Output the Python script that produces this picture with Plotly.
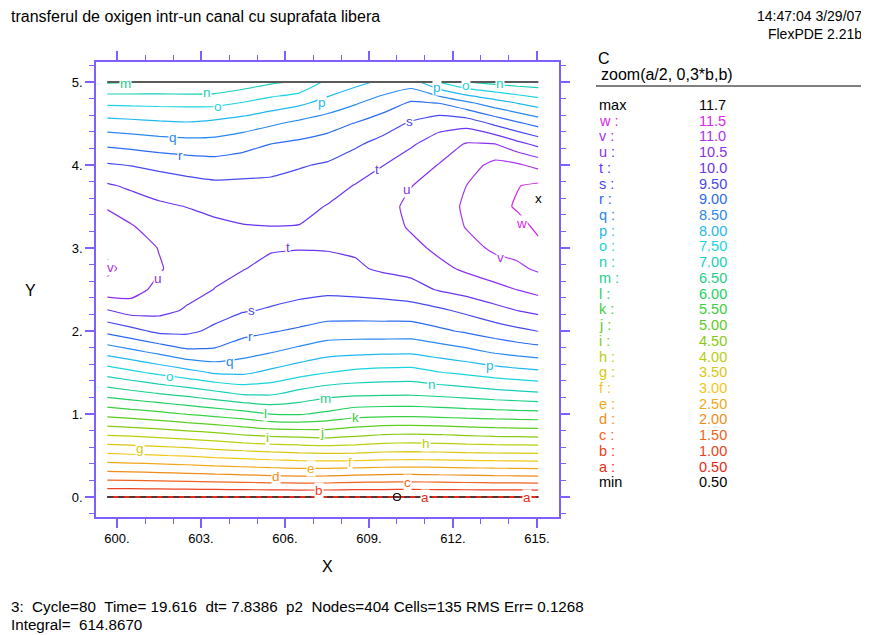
import numpy as np
import plotly.graph_objects as go

# ---------------- data ----------------
x_cols = [599.65, 600.5, 601.5, 602.5, 603.5, 604.5, 605.5, 606.5, 607.5,
          608.5, 609.5, 610.5, 611.5, 612.5, 613.5, 614.3, 615.05]
y_rows = [0.0, 0.25, 0.5, 0.75, 1.0, 1.25, 1.5, 1.75, 2.0, 2.25, 2.5,
          2.75, 3.0, 3.25, 3.5, 3.75, 4.0, 4.25, 4.5, 4.75, 5.0]

# C values per x column (bottom -> top)
c00 = [0.5, 1.73, 2.88, 4.03, 5.15, 6.21, 7.2, 8.18, 9.13, 9.98, 10.8, 11.12, 10.86, 10.67, 10.47, 10.06, 9.55, 8.91, 8.21, 7.4, 6.45]
c01 = [0.5, 1.75, 2.93, 4.08, 5.25, 6.35, 7.39, 8.38, 9.34, 10.21, 10.72, 10.82, 10.78, 10.55, 10.25, 9.92, 9.48, 8.84, 8.16, 7.38, 6.48]
c02 = [0.5, 1.79, 2.98, 4.16, 5.37, 6.52, 7.61, 8.62, 9.61, 10.15, 10.35, 10.55, 10.48, 10.27, 10.08, 9.79, 9.37, 8.75, 8.09, 7.37, 6.5]
c03 = [0.5, 1.83, 3.04, 4.26, 5.52, 6.68, 7.82, 8.9, 9.61, 9.95, 10.15, 10.25, 10.28, 10.2, 9.99, 9.69, 9.27, 8.7, 8.05, 7.36, 6.5]
c04 = [0.5, 1.87, 3.13, 4.37, 5.66, 6.87, 8.06, 8.91, 9.39, 9.71, 9.99, 10.1, 10.15, 10.1, 9.89, 9.61, 9.21, 8.69, 8.14, 7.36, 6.55]
c05 = [0.5, 1.91, 3.2, 4.51, 5.81, 7.08, 8.09, 8.69, 9.16, 9.54, 9.78, 10.02, 10.1, 10.03, 9.83, 9.61, 9.28, 8.82, 8.26, 7.52, 6.72]
c06 = [0.5, 1.96, 3.27, 4.61, 6.01, 7.09, 7.89, 8.53, 9.04, 9.46, 9.67, 9.85, 10.05, 10.01, 9.81, 9.61, 9.35, 9.01, 8.43, 7.72, 6.92]
c07 = [0.5, 1.99, 3.33, 4.65, 6.04, 6.86, 7.68, 8.35, 8.92, 9.36, 9.63, 9.82, 10.02, 10.02, 9.86, 9.67, 9.46, 9.11, 8.62, 7.89, 7.05]
c08 = [0.5, 1.98, 3.36, 4.7, 5.9, 6.68, 7.51, 8.17, 8.77, 9.26, 9.6, 9.84, 10.03, 10.05, 10.02, 9.81, 9.55, 9.22, 8.8, 8.16, 7.6]
c09 = [0.5, 1.92, 3.36, 4.6, 5.7, 6.62, 7.39, 8.12, 8.75, 9.26, 9.63, 9.93, 10.06, 10.1, 10.06, 10.02, 9.75, 9.43, 9.02, 8.44, 7.85]
c10 = [0.5, 1.89, 3.3, 4.49, 5.66, 6.6, 7.33, 8.09, 8.76, 9.27, 9.69, 10.07, 10.2, 10.3, 10.35, 10.25, 9.99, 9.67, 9.27, 8.74, 8.1]
c11 = [0.5, 1.87, 3.28, 4.46, 5.65, 6.59, 7.31, 8.08, 8.76, 9.28, 9.82, 10.15, 10.37, 10.55, 10.6, 10.49, 10.23, 9.95, 9.56, 9.05, 8.25]
c12 = [0.5, 1.9, 3.3, 4.49, 5.69, 6.65, 7.48, 8.22, 8.91, 9.42, 10.04, 10.38, 10.6, 10.7, 10.72, 10.65, 10.52, 10.22, 9.84, 8.98, 7.48]
c13 = [0.5, 1.93, 3.33, 4.55, 5.74, 6.73, 7.6, 8.37, 9.07, 9.62, 10.2, 10.58, 10.81, 11.03, 11.1, 11.01, 10.78, 10.55, 9.83, 8.59, 6.98]
c14 = [0.5, 1.96, 3.35, 4.6, 5.78, 6.83, 7.74, 8.56, 9.25, 9.85, 10.37, 10.75, 11.1, 11.3, 11.35, 11.25, 11.15, 10.52, 9.4, 8.21, 6.85]
c15 = [0.5, 1.97, 3.36, 4.62, 5.81, 6.89, 7.82, 8.67, 9.39, 10.01, 10.51, 10.91, 11.15, 11.35, 11.55, 11.48, 11.07, 10.16, 9.09, 7.97, 6.75]
c16 = [0.5, 1.99, 3.37, 4.64, 5.83, 6.95, 7.89, 8.75, 9.51, 10.13, 10.65, 11.07, 11.4, 11.58, 11.68, 11.6, 10.85, 9.88, 8.83, 7.76, 6.72]

level_letters = list("abcdefghijklmnopqrstuvw")
level_values = [0.5, 1.0, 1.5, 2.0, 2.5, 3.0, 3.5, 4.0, 4.5, 5.0, 5.5, 6.0,
                6.5, 7.0, 7.5, 8.0, 8.5, 9.0, 9.5, 10.0, 10.5, 11.0, 11.5]
level_text = ["0.50", "1.00", "1.50", "2.00", "2.50", "3.00", "3.50", "4.00",
              "4.50", "5.00", "5.50", "6.00", "6.50", "7.00", "7.50", "8.00",
              "8.50", "9.00", "9.50", "10.0", "10.5", "11.0", "11.5"]
level_colors = ["#e82a18", "#f04020", "#f06420", "#f08c18", "#f0a818", "#f0c818",
                "#d8c810", "#b8d010", "#88cc10", "#5ccc20", "#3ad040", "#22d060",
                "#1ccf88", "#16cfb8", "#1ad4e0", "#1fb8f0", "#2a88f0", "#2b6bf0",
                "#4848f0", "#6a35f0", "#8a2ff0", "#aa33ee", "#d42ae8"]

# contour label letters and their positions (data units)
lab_letter = ["m", "n", "o", "p", "q", "r", "s", "t", "u", "p", "o", "n", "w", "v",
              "t", "v", "u", "s", "r", "q", "p", "o", "n", "m", "l", "k", "j", "i",
              "h", "g", "f", "e", "d", "c", "b", "a", "a"]
lab_x = [600.29, 603.21, 603.61, 607.32, 602.0, 602.25, 610.43, 609.29, 610.36, 611.43,
         612.46, 613.68, 614.46, 613.68, 606.11, 599.75, 601.46, 604.82, 604.75, 604.04,
         613.32, 601.89, 611.25, 607.43, 605.29, 608.5, 607.32, 605.39, 611.04, 600.82,
         608.32, 606.93, 605.68, 610.39, 607.21, 611.0, 614.64]
lab_y = [4.98, 4.87, 4.71, 4.75, 4.33, 4.12, 4.53, 3.95, 3.70, 4.93,
         4.96, 4.98, 3.29, 2.89, 3.01, 2.76, 2.63, 2.25, 1.93, 1.63,
         1.58, 1.45, 1.36, 1.19, 1.01, 0.96, 0.78, 0.72, 0.65, 0.59,
         0.41, 0.34, 0.25, 0.17, 0.08, 0.0, 0.0]

domain_x = [599.65, 615.05]
domain_y = [0.0, 5.0]
max_pt = (615.05, 3.6, "11.7")
min_pt = (610.0, 0.0, "0.50")

x_tickvals = [600, 603, 606, 609, 612, 615]
x_ticktext = ["600.", "603.", "606.", "609.", "612.", "615."]
y_tickvals = [0, 1, 2, 3, 4, 5]
y_ticktext = ["0.", "1.", "2.", "3.", "4.", "5."]

# ---------------- figure ----------------
Z = np.array([c00, c01, c02, c03, c04, c05, c06, c07, c08, c09, c10, c11,
              c12, c13, c14, c15, c16]).T

FONT = "Liberation Sans, Arial, Helvetica, sans-serif"
FRAME = "#7f60ff"

# the page body adds an 8px margin; all page positions below are given
# in window pixels and shifted by OFF
OFF = 8
W, H = 869 - OFF, 635 - OFF
L, R, T, B = 96 - OFF, 559 - OFF, 62 - OFF, 517 - OFF


def px(xp, yp):
    xp -= OFF
    yp -= OFF
    return (xp - L) / (R - L), (B - yp) / (B - T)


zmin, zmax = level_values[1], level_values[-1]
cscale = [[(v - zmin) / (zmax - zmin), c] for v, c in zip(level_values[1:], level_colors[1:])]

fig = go.Figure()
fig.add_trace(go.Contour(
    x=x_cols, y=y_rows, z=Z,
    zmin=zmin, zmax=zmax, zauto=False,
    colorscale=cscale, showscale=False,
    contours=dict(start=level_values[1], end=level_values[-1], size=0.5,
                  coloring="lines", showlabels=False),
    line=dict(width=1.2, smoothing=0.4),
    hoverinfo="skip",
))

# bottom boundary: level a (red) with dark dashed boundary over it
fig.add_trace(go.Scatter(x=domain_x, y=[domain_y[0]] * 2, mode="lines",
                         line=dict(color=level_colors[0], width=2), hoverinfo="skip"))
fig.add_trace(go.Scatter(x=domain_x, y=[domain_y[0]] * 2, mode="lines",
                         line=dict(color="#503838", width=2, dash="6px,5px"), hoverinfo="skip"))
# top boundary
fig.add_trace(go.Scatter(x=domain_x, y=[domain_y[1]] * 2, mode="lines",
                         line=dict(color="#5a5a5a", width=2.2), hoverinfo="skip"))

# min marker
fig.add_trace(go.Scatter(x=[min_pt[0]], y=[min_pt[1]], mode="markers",
                         marker=dict(symbol="circle-open", size=7, color="black",
                                     line=dict(width=1.2)), hoverinfo="skip"))

annotations = []
color_of = dict(zip(level_letters, level_colors))
for ch, xx, yy in zip(lab_letter, lab_x, lab_y):
    annotations.append(dict(x=xx, y=yy, xref="x", yref="y", text=ch, showarrow=False,
                            font=dict(family=FONT, size=13.5, color=color_of[ch]),
                            bgcolor="white", borderpad=0, xanchor="center", yanchor="middle"))
# max marker
annotations.append(dict(x=max_pt[0], y=max_pt[1], xref="x", yref="y", text="x", showarrow=False,
                        font=dict(family=FONT, size=13.5, color="black"),
                        xanchor="center", yanchor="middle"))


def txt(xp, yp, s, size=14, color="black", anchor="left"):
    xx, yy = px(xp, yp)
    annotations.append(dict(x=xx, y=yy, xref="paper", yref="paper", text=s, showarrow=False,
                            font=dict(family=FONT, size=size, color=color),
                            xanchor=anchor, yanchor="middle", align=anchor if anchor != "center" else "center"))


NB = "\u00a0"
txt(9, 17, "transferul de oxigen intr-un canal cu suprafata libera", 16)
txt(864, 25, "14:47:04 3/29/07<br>FlexPDE 2.21b", 14, anchor="right")
txt(596, 58, "C", 16)
txt(599, 74, "zoom(a/2, 0,3*b,b)", 16)

row0, step = 105, 15.72
LS = 14.5
txt(597, row0, "max", LS)
txt(697, row0, max_pt[2], LS)
for i, k in enumerate(range(len(level_letters) - 1, -1, -1)):
    yy = row0 + (i + 1) * step
    txt(597, yy, level_letters[k] + NB + ":", LS, level_colors[k])
    txt(697, yy, level_text[k], LS, level_colors[k])
txt(597, row0 + 24 * step, "min", LS)
txt(697, row0 + 24 * step, min_pt[2], LS)

txt(327, 566, "X", 16, anchor="center")
txt(30, 290, "Y", 16, anchor="center")
txt(9, 606, "3:" + NB * 2 + "Cycle=80" + NB * 2 + "Time= 19.616" + NB * 2 + "dt= 7.8386" + NB * 2 +
    "p2" + NB * 2 + "Nodes=404 Cells=135 RMS Err= 0.1268", 15.2)
txt(9, 624, "Integral=" + NB * 2 + "614.8670", 15.2)

x0p, _ = px(596, 0)
x1p, _ = px(869, 0)
_, ylp = px(0, 86)
shapes = [dict(type="line", xref="paper", yref="paper", x0=x0p, x1=x1p, y0=ylp, y1=ylp,
               line=dict(color="black", width=1))]

axis_common = dict(showgrid=False, zeroline=False, showline=True, linecolor=FRAME,
                   linewidth=1.5, mirror="allticks", ticks="outside", ticklen=9,
                   tickwidth=1.5, tickcolor=FRAME,
                   tickfont=dict(family=FONT, size=13, color="black"))

fig.update_layout(
    width=W, height=H,
    margin=dict(l=L, r=W - R, t=T, b=H - B, pad=0),
    plot_bgcolor="white", paper_bgcolor="white",
    showlegend=False,
    annotations=annotations, shapes=shapes,
    xaxis=dict(range=[599.25, 615.786], tickmode="array", tickvals=x_tickvals,
               ticktext=x_ticktext,
               minor=dict(dtick=1, tick0=600, ticks="outside", ticklen=5, tickcolor=FRAME,
                          tickwidth=1.2),
               **axis_common),
    yaxis=dict(range=[-0.241, 5.241], tickmode="array", tickvals=y_tickvals,
               ticktext=y_ticktext,
               minor=dict(dtick=0.2, tick0=0, ticks="outside", ticklen=5, tickcolor=FRAME,
                          tickwidth=1.2),
               **axis_common),
)

fig.write_html("out.html")
